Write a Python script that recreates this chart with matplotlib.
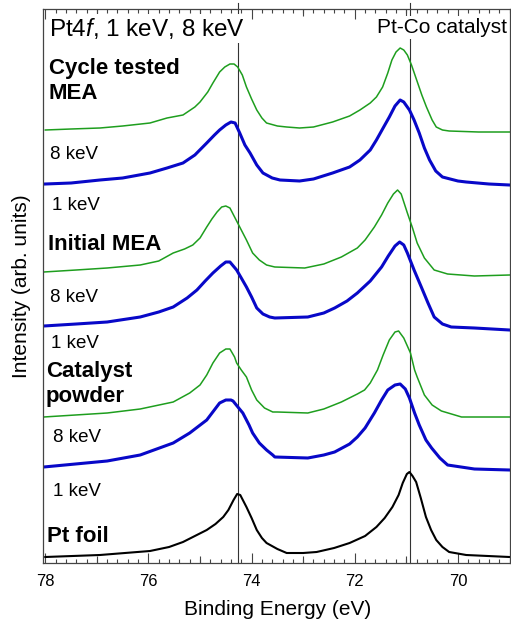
"""Pt4f HAXPES spectra of Pt-Co catalyst (1 keV / 8 keV), stacked."""

import numpy as np
import matplotlib
matplotlib.use("Agg")
import matplotlib.pyplot as plt
from matplotlib.ticker import MultipleLocator, FixedLocator

plt.rcParams.update({
    "font.family": ["Liberation Sans", "DejaVu Sans"],
    "mathtext.fontset": "custom",
    "mathtext.rm": "Liberation Sans",
    "mathtext.it": "Liberation Sans:italic",
})

W, H = 511, 624

# ── Data (binding energy in eV, stacked intensity in arb. units) ──
cyc_1k_E = [78.00, 77.50, 76.94, 76.50, 75.97, 75.64, 75.33, 75.10, 75.00, 74.85,
            74.75, 74.62, 74.52, 74.42, 74.34, 74.27, 74.18, 74.10, 74.00, 73.90,
            73.80, 73.71, 73.50, 73.32, 73.07, 72.80, 72.43, 72.10, 71.90, 71.70,
            71.58, 71.46, 71.36, 71.28, 71.20, 71.12, 71.05, 70.98, 70.90, 70.80,
            70.70, 70.61, 70.50, 70.42, 70.30, 70.17, 69.60, 69.00]
cyc_1k_I = [433, 434, 435, 437, 440, 445, 448, 456, 461, 471,
            480, 491, 496, 499, 499, 496, 488, 476, 464, 453,
            445, 440, 437, 436, 435, 436, 441, 447, 453, 460,
            466, 476, 490, 503, 511, 515, 513, 508, 498, 483,
            468, 456, 443, 436, 433, 432, 431, 431]

cyc_8k_E = [78.00, 77.50, 76.94, 76.50, 75.97, 75.64, 75.33, 75.10, 74.87, 74.72,
            74.62, 74.50, 74.40, 74.32, 74.23, 74.13, 74.03, 73.90, 73.78, 73.60,
            73.45, 73.07, 72.80, 72.43, 72.10, 71.90, 71.70, 71.58, 71.45, 71.33,
            71.22, 71.12, 71.05, 70.94, 70.85, 70.75, 70.65, 70.55, 70.43, 70.30,
            70.00, 69.84, 69.40, 69.00]
cyc_8k_I = [379, 380, 383, 385, 390, 395, 400, 408, 420, 428,
            433, 438, 441, 440, 430, 418, 410, 398, 390, 385,
            383, 382, 384, 390, 396, 403, 413, 423, 435, 446,
            457, 463, 461, 453, 443, 430, 415, 403, 392, 386,
            382, 381, 379, 378]

ini_1k_E = [78.03, 77.40, 76.80, 76.16, 75.80, 75.52, 75.30, 75.14, 75.00, 74.87,
            74.77, 74.67, 74.58, 74.50, 74.42, 74.38, 74.30, 74.23, 74.10, 73.98,
            73.85, 73.71, 73.55, 72.97, 72.60, 72.26, 71.95, 71.80, 71.62, 71.48,
            71.36, 71.25, 71.17, 71.10, 70.98, 70.88, 70.79, 70.65, 70.46, 70.20,
            69.68, 69.00]
ini_1k_I = [291, 293, 295, 298, 302, 310, 314, 318, 325, 336,
            344, 351, 356, 357, 355, 351, 343, 336, 323, 310,
            303, 298, 296, 295, 299, 306, 315, 323, 336, 348,
            360, 369, 373, 369, 350, 335, 320, 305, 293, 289,
            287, 288]

ini_8k_E = [78.03, 77.40, 76.80, 76.16, 75.80, 75.52, 75.25, 75.06, 74.90, 74.75,
            74.60, 74.50, 74.42, 74.29, 74.20, 74.10, 74.00, 73.90, 73.78, 73.65,
            73.55, 72.91, 72.60, 72.39, 72.15, 71.95, 71.70, 71.48, 71.35, 71.22,
            71.13, 71.05, 70.98, 70.85, 70.71, 70.58, 70.46, 70.30, 70.13, 69.68,
            69.00]
ini_8k_I = [237, 239, 241, 246, 251, 256, 265, 273, 282, 290,
            297, 301, 301, 293, 285, 276, 266, 255, 249, 246,
            245, 246, 250, 255, 262, 270, 282, 296, 307, 317,
            321, 318, 310, 293, 276, 260, 246, 239, 236, 235,
            233]

cat_1k_E = [78.03, 76.80, 76.16, 75.52, 75.20, 75.00, 74.87, 74.75, 74.62, 74.50,
            74.42, 74.33, 74.29, 74.20, 74.10, 74.00, 73.90, 73.75, 73.59, 73.50,
            72.91, 72.60, 72.26, 71.95, 71.81, 71.70, 71.56, 71.45, 71.33, 71.22,
            71.15, 71.05, 70.92, 70.84, 70.79, 70.65, 70.50, 70.32, 69.93, 69.00]
cat_1k_I = [146, 150, 154, 161, 170, 178, 188, 200, 210, 214,
            214, 206, 200, 193, 186, 173, 163, 155, 151, 151,
            150, 154, 161, 169, 173, 180, 193, 208, 223, 231,
            232, 225, 210, 193, 186, 168, 158, 152, 146, 146]

cat_8k_E = [78.03, 76.80, 76.16, 75.52, 75.20, 74.87, 74.62, 74.50, 74.40, 74.36,
            74.25, 74.17, 74.05, 73.98, 73.85, 73.71, 73.59, 73.55, 72.91, 72.60,
            72.39, 72.10, 71.95, 71.80, 71.62, 71.48, 71.36, 71.22, 71.12, 71.02,
            70.94, 70.84, 70.75, 70.62, 70.51, 70.35, 70.20, 69.68, 69.00]
cat_8k_I = [96, 102, 108, 120, 130, 143, 160, 163, 163, 162,
            155, 150, 138, 130, 120, 113, 108, 106, 105, 108,
            111, 119, 126, 135, 150, 163, 173, 178, 179, 174,
            165, 150, 138, 123, 115, 105, 98, 94, 93]

foil_E = [78.00, 76.94, 75.97, 75.60, 75.33, 75.10, 74.87, 74.70, 74.55, 74.45,
          74.35, 74.28, 74.22, 74.15, 74.10, 74.00, 73.90, 73.80, 73.71, 73.50,
          73.32, 73.00, 72.74, 72.40, 72.10, 71.80, 71.58, 71.42, 71.27, 71.15,
          71.07, 70.99, 70.94, 70.88, 70.81, 70.72, 70.62, 70.52, 70.42, 70.30,
          70.17, 69.84, 69.00]
foil_I = [6, 8, 12, 16, 21, 27, 33, 39, 46, 53,
          63, 69, 68, 61, 56, 45, 33, 25, 20, 14,
          10, 10, 11, 15, 20, 27, 36, 45, 56, 68,
          80, 89, 91, 87, 81, 65, 46, 33, 23, 16,
          11, 8, 6]

ref_lines = [74.26, 70.92]

GREEN = "#1e9e1e"
BLUE = "#0808c8"

fig = plt.figure(figsize=(W / 100, H / 100), dpi=100)
ax = fig.add_axes([42.7 / W, 1 - 563 / H, (509.5 - 42.7) / W, (563 - 9) / H])


def px(x, y):
    return x / W, 1 - y / H


# ── Spectra ──────────────────────────────────────────────────────
ax.plot(cyc_1k_E, cyc_1k_I, color=GREEN, lw=1.1, zorder=2)
ax.plot(cyc_8k_E, cyc_8k_I, color=BLUE, lw=2.2, zorder=2)
ax.plot(ini_1k_E, ini_1k_I, color=GREEN, lw=1.1, zorder=2)
ax.plot(ini_8k_E, ini_8k_I, color=BLUE, lw=2.2, zorder=2)
ax.plot(cat_1k_E, cat_1k_I, color=GREEN, lw=1.1, zorder=2)
ax.plot(cat_8k_E, cat_8k_I, color=BLUE, lw=2.2, zorder=2)
ax.plot(foil_E, foil_I, color="black", lw=1.5, zorder=2)

for e in ref_lines:
    ax.axvline(e, ymin=0, ymax=1.01, color="#333333", lw=0.8,
               clip_on=False, zorder=1.5)

ax.set_xlim(78.05, 69.0)
ax.set_ylim(0, 554)

# ── Ticks ────────────────────────────────────────────────────────
ax.xaxis.set_major_locator(MultipleLocator(2))
ax.xaxis.set_minor_locator(MultipleLocator(0.2))
ax.xaxis.set_major_formatter(lambda v, p: f"{v:.0f}")
ax.tick_params(axis="x", which="both", direction="in", top=True,
               color="#444444", width=0.8)
ax.tick_params(axis="x", which="major", length=7.5, labelsize=12, pad=8)
ax.tick_params(axis="x", which="minor", length=3)
ax.tick_params(axis="y", left=False, labelleft=False)
odd = [77, 75, 73, 71]
xt = ax.get_xaxis_transform()
ax.plot(odd, [0] * len(odd), ls="none", marker=2, ms=5, mew=0.8,
        color="#444444", transform=xt, clip_on=False)
ax.plot(odd, [1] * len(odd), ls="none", marker=3, ms=5, mew=0.8,
        color="#444444", transform=xt, clip_on=False)

for s in ax.spines.values():
    s.set_color("#444444")
    s.set_linewidth(0.9)

# ── Text ─────────────────────────────────────────────────────────
box = dict(facecolor="white", edgecolor="none", pad=1.5)
ax.text(*px(49, 36), "Pt4$\\mathit{f}$, 1 keV, 8 keV", fontsize=17.5,
        transform=fig.transFigure, va="baseline", ha="left",
        bbox=box, zorder=2.2)
ax.text(*px(507, 33), "Pt-Co catalyst", fontsize=15,
        transform=fig.transFigure, va="baseline", ha="right",
        bbox=box, zorder=2.2)

bold_labels = [("Cycle tested", 49, 74), ("MEA", 49, 99),
               ("Initial MEA", 48, 250),
               ("Catalyst", 46, 377), ("powder", 46, 402),
               ("Pt foil", 47, 542)]
for txt, x, y in bold_labels:
    fig.text(*px(x, y), txt, fontsize=16, fontweight="bold",
             va="baseline", ha="left")

energy_labels = [("8 keV", 50, 159), ("1 keV", 52, 210),
                 ("8 keV", 50, 302), ("1 keV", 51, 348),
                 ("8 keV", 53, 442), ("1 keV", 53, 496)]
for txt, x, y in energy_labels:
    fig.text(*px(x, y), txt, fontsize=13.5, va="baseline", ha="left")

fig.text(*px(278, 615), "Binding Energy (eV)", fontsize=15,
         ha="center", va="baseline")
fig.text(*px(22, 286), "Intensity (arb. units)", fontsize=15,
         ha="center", va="center", rotation=90)

fig.savefig("out.png", dpi=100, facecolor="white")
